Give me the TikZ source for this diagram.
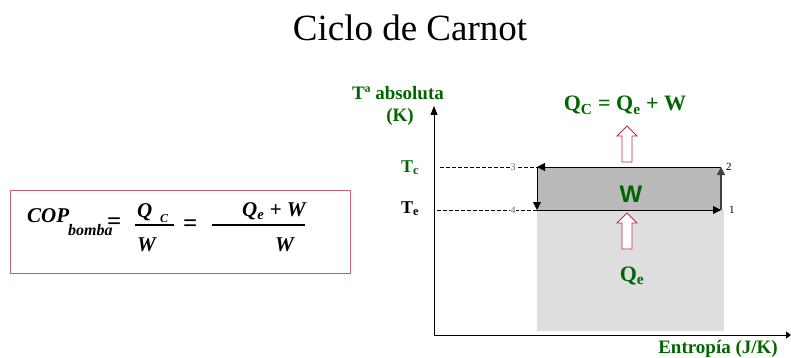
\documentclass[tikz,border=0pt]{standalone}
\usepackage{fontspec}
\setmainfont{Liberation Serif}
\newfontfamily\arialf{Liberation Sans}
\usetikzlibrary{arrows.meta}
\definecolor{dkgreen}{RGB}{0,102,0}
\definecolor{boxred}{RGB}{200,95,115}
\definecolor{arrred}{RGB}{195,40,70}
\definecolor{wgray}{RGB}{186,186,186}
\definecolor{qgray}{RGB}{222,222,222}
\newcommand{\fs}[1]{\fontsize{#1}{#1}\selectfont}
\begin{document}
\begin{tikzpicture}[x=1pt,y=-1pt,
  txt/.style={inner sep=0pt,anchor=base west},
  ctxt/.style={inner sep=0pt,anchor=base},
  glabel/.style={ctxt,text=dkgreen,font=\fs{19}\bfseries},
  fml/.style={txt,font=\fs{21}\bfseries\itshape},
  hollow/.style={draw=arrred,fill=white,line width=0.9pt,line join=miter},
  cyc/.style={line width=1pt,-{Triangle[length=8pt,width=8pt]}},
  axis/.style={line width=0.9pt,-{Triangle[length=9pt,width=7pt]}},
  dsh/.style={dashed,line width=0.9pt,dash pattern=on 4pt off 2pt}]
\useasboundingbox (0,0) rectangle (791,358);

% title
\node[ctxt,font=\fs{37}] (title) at (410,41) {Ciclo de Carnot};

% formula box
\draw[boxred,line width=1pt] (10,190) rectangle (350,273);
\node[fml] (cop) at (27,222) {COP};
\node[fml,font=\fs{16}\bfseries\itshape] (bomba) at (68,235) {bomba};
\node[fml,font=\fs{25}\bfseries] (eq1) at (107,229) {=};
\node[fml] (qc) at (137,217) {Q};
\node[fml,font=\fs{12}\bfseries\itshape] (csub) at (160,222) {C};
\draw[line width=1.3pt] (135,225) -- (174,225);
\node[fml] (w1) at (137,251) {W};
\node[fml,font=\fs{25}\bfseries] (eq2) at (183,231) {=};
\draw[line width=1.3pt] (212,225) -- (305,225);
\node[fml] (num2) at (242,216) {Q\textsubscript{e} + W};
\node[fml] (w2) at (275,251) {W};

% fills
\fill[qgray] (537,210) rectangle (724,331);
\fill[wgray] (537,167) rectangle (721,210);

% axes
\coordinate (o) at (434,335);
\coordinate (ytop) at (434,106);
\coordinate (xend) at (791,335);
\draw[axis] (o) -- (ytop);
\draw[line width=0.9pt,-{Triangle[length=5pt,width=7pt]}] (o) -- (xend);

\node[glabel] (ta) at (398,100) {Tª absoluta};
\node[glabel] (k) at (400,122) {(K)};
\node[glabel] (ent) at (718,353) {Entropía (J/K)};

% T labels
\node[txt,text=dkgreen,font=\fs{18}\bfseries] (tc) at (401,172) {T\textsubscript{c}};
\node[txt,font=\fs{18}\bfseries] (te) at (401,213) {T\textsubscript{e}};

% cycle corners
\coordinate (c1) at (721,210);
\coordinate (c2) at (721,167);
\coordinate (c3) at (537,167);
\coordinate (c4) at (537,210);
\coordinate (dc) at (440,167);
\coordinate (de) at (437,210);
\draw[dsh] (dc) -- (c3);
\draw[dsh] (de) -- (c4);
\draw[cyc] (c2) -- (c3);
\draw[cyc] (c3) -- (c4);
\draw[cyc] (c4) -- (c1);
\draw[cyc,line width=1.4pt,black!75] (c1) -- (c2);

\node[ctxt,font=\fs{10},text=black!60,fill=white,inner xsep=0.5pt] (n3) at (513,171) {3};
\node[ctxt,font=\fs{10},text=black!60,fill=white,inner xsep=0.5pt] (n4) at (513,213) {4};
\node[txt,font=\fs{11}] (n2) at (726,171) {2};
\node[txt,font=\fs{11}] (n1) at (729,213) {1};

% W, Q labels
\node[ctxt,text=dkgreen,font=\fs{24}\arialf\bfseries] (wlab) at (631,202) {W};
\node[ctxt,text=dkgreen,font=\fs{22}\bfseries] (qclab) at (625,111) {Q\textsubscript{C} = Q\textsubscript{e} + W};
\node[ctxt,text=dkgreen,font=\fs{22}\bfseries] (qelab) at (632,281) {Q\textsubscript{e}};

% hollow arrows
\draw[hollow] (627,126) -- (637,136) -- (632,136) -- (632,162) -- (622,162) -- (622,136) -- (617,136) -- cycle;
\draw[hollow] (627,213) -- (637,223) -- (632,223) -- (632,249) -- (622,249) -- (622,223) -- (617,223) -- cycle;
\end{tikzpicture}
\end{document}
